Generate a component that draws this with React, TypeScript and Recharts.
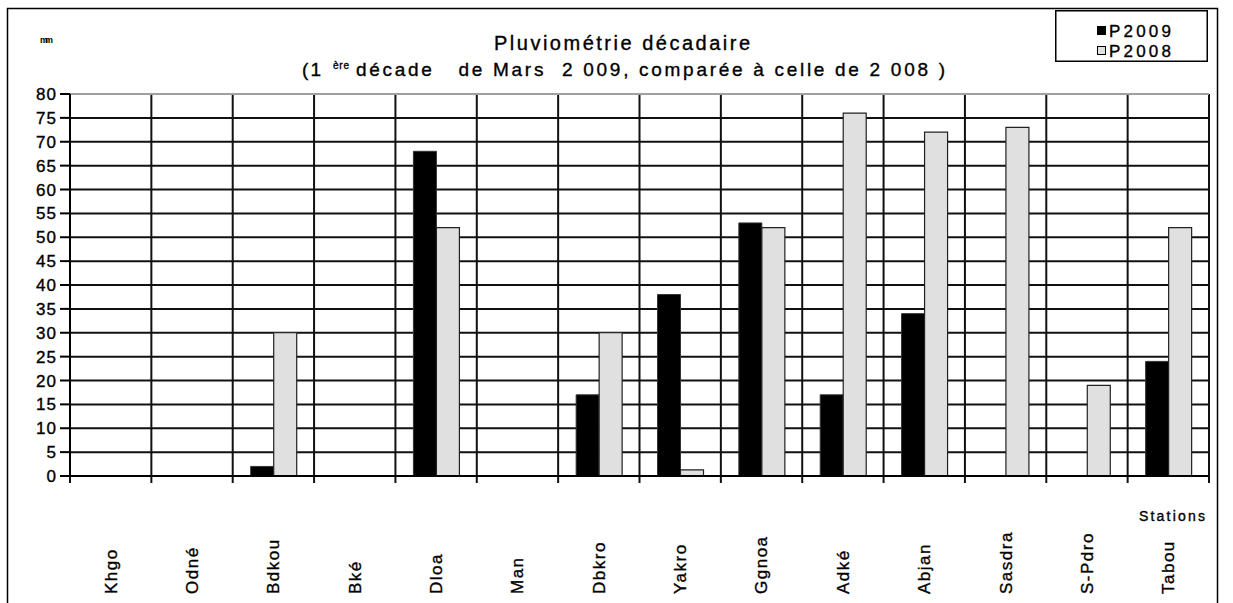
import React from "react";
import { BarChart, Bar, XAxis, YAxis, CartesianGrid, Legend, ReferenceLine } from "recharts";

const stations = ["Khgo", "Odné", "Bdkou", "Bké", "Dloa", "Man", "Dbkro", "Yakro", "Ggnoa", "Adké", "Abjan", "Sasdra", "S-Pdro", "Tabou"];
const p2009 = [0, 0, 2, 0, 68, 0, 17, 38, 53, 17, 34, 0, 0, 24];
const p2008 = [0, 0, 30, 0, 52, 0, 30, 1.3, 52, 76, 72, 73, 19, 52];
const yTicks = [0, 5, 10, 15, 20, 25, 30, 35, 40, 45, 50, 55, 60, 65, 70, 75, 80];
const seriesOrder = ["P2009", "P2008"];

const data = stations.map((station, i) => ({ station, P2009: p2009[i], P2008: p2008[i] }));

const W = 1233;
const H = 603;
const PLOT_LEFT = 70;
const PLOT_RIGHT = 1209;
const PLOT_W = PLOT_RIGHT - PLOT_LEFT;
const FONT = "'Liberation Sans', Arial, sans-serif";
const INK = { fill: "#000", stroke: "#000", strokeWidth: 0.35 };

function StationTick(props: any) {
  const { x, y, payload, index } = props;
  const bw = PLOT_W / stations.length;
  const left = x - bw / 2;
  return (
    <g>
      <line x1={left} y1={y} x2={left} y2={y + 7} stroke="#111" strokeWidth={2} />
      {index === stations.length - 1 && (
        <line x1={x + bw / 2} y1={y} x2={x + bw / 2} y2={y + 7} stroke="#111" strokeWidth={2} />
      )}
      <text
        x={x}
        y={594}
        dy="0.35em"
        transform={`rotate(-90 ${x} 594)`}
        textAnchor="start"
        fontFamily={FONT}
        fontSize={17}
        letterSpacing={1.5}
        {...INK}
      >
        {payload.value}
      </text>
    </g>
  );
}

function YTick(props: any) {
  const { x, y, payload } = props;
  return (
    <text x={x} y={y} dy="0.36em" textAnchor="end" fontFamily={FONT} fontSize={17} letterSpacing={1} {...INK}>
      {payload.value}
    </text>
  );
}

function LegendBox(props: any) {
  const items = [...(props.payload || [])].sort(
    (a: any, b: any) => seriesOrder.indexOf(a.value) - seriesOrder.indexOf(b.value)
  );
  return (
    <svg width={153} height={52} style={{ display: "block" }}>
      <rect x={0.75} y={0.75} width={151.5} height={50.5} fill="#fff" stroke="#000" strokeWidth={1.5} />
      {items.map((it: any, i: number) => (
        <g key={it.value}>
          <rect x={42.5} y={16.5 + i * 20} width={8} height={8} fill={it.color} stroke="#000" strokeWidth={1} />
          <text x={54} y={26.5 + i * 20} fontFamily={FONT} fontSize={17} textLength={62} lengthAdjust="spacing" {...INK}>
            {it.value}
          </text>
        </g>
      ))}
    </svg>
  );
}

export default function App() {
  return (
    <div style={{ position: "absolute", left: 0, top: 0, width: W, height: H, background: "#fff" }}>
      <BarChart
        width={W}
        height={H}
        data={data}
        margin={{ top: 94, right: W - PLOT_RIGHT, left: 10, bottom: 27 }}
        barSize={23}
        barGap={0}
      >
        <CartesianGrid
          stroke="#111"
          strokeWidth={2}
          verticalCoordinatesGenerator={({ offset }: any) =>
            stations.map((_, i) => offset.left + (i * offset.width) / stations.length).concat(offset.left + offset.width)
          }
        />
        <XAxis
          dataKey="station"
          interval={0}
          height={100}
          tickSize={0}
          tickMargin={0}
          axisLine={{ stroke: "#000", strokeWidth: 2 }}
          tick={<StationTick />}
        />
        <YAxis
          width={60}
          type="number"
          domain={[0, 80]}
          ticks={yTicks}
          interval={0}
          tickSize={10}
          tickMargin={3}
          axisLine={{ stroke: "#000", strokeWidth: 2 }}
          tickLine={{ stroke: "#000", strokeWidth: 2 }}
          tick={<YTick />}
        />
        <ReferenceLine y={80} stroke="#a0a0a0" strokeWidth={2} />
        <Bar dataKey="P2009" fill="#000000" stroke="#333" strokeWidth={1} isAnimationActive={false} />
        <Bar dataKey="P2008" fill="#e0e0e0" stroke="#222" strokeWidth={1.2} isAnimationActive={false} />
        <Legend
          layout="vertical"
          align="center"
          verticalAlign="middle"
          content={<LegendBox />}
          wrapperStyle={{ position: "absolute", left: 1055, top: 10, width: 153, height: 52 }}
        />
      </BarChart>
      <svg
        width={W}
        height={H}
        style={{ position: "absolute", left: 0, top: 0, pointerEvents: "none" }}
      >
        <rect x={7.5} y={8.5} width={1210} height={620} fill="none" stroke="#000" strokeWidth={1.5} />
        <text x={40} y={43} fontFamily={FONT} fontSize={9} fontWeight="bold" textLength={13} lengthAdjust="spacing" fill="#000">
          mm
        </text>
        <text x={494} y={50} fontFamily={FONT} fontSize={20} textLength={256} lengthAdjust="spacing" {...INK}>
          Pluviométrie décadaire
        </text>
        <text x={302} y={76} fontFamily={FONT} fontSize={19} textLength={19} lengthAdjust="spacing" {...INK}>
          ( 1
        </text>
        <text x={333} y={69} fontFamily={FONT} fontSize={10} textLength={16} lengthAdjust="spacing" {...INK}>
          ère
        </text>
        <text
          x={356}
          y={76}
          fontFamily={FONT}
          fontSize={19}
          textLength={589}
          lengthAdjust="spacing"
          style={{ whiteSpace: "pre" }}
          {...INK}
        >
          {"décade   de Mars  2 009, comparée à celle de 2 008 )"}
        </text>
        <text x={1139} y={521} fontFamily={FONT} fontSize={14} textLength={66} lengthAdjust="spacing" {...INK}>
          Stations
        </text>
      </svg>
    </div>
  );
}
